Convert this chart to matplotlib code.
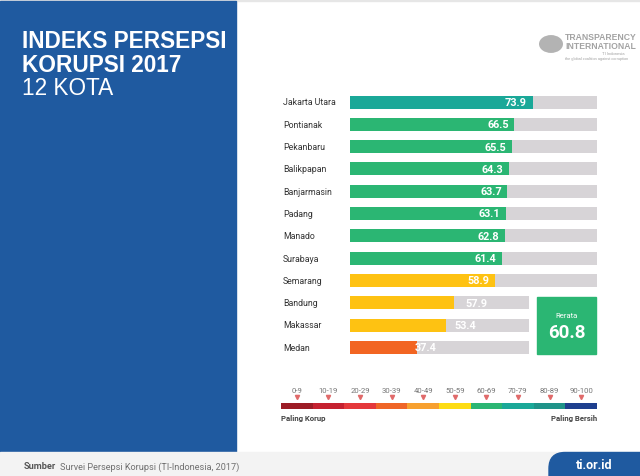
import matplotlib
matplotlib.use("Agg")
import matplotlib.pyplot as plt
from matplotlib.patches import Rectangle, FancyBboxPatch, Circle
from matplotlib.transforms import blended_transform_factory

# data
kota_atas = ['Jakarta Utara', 'Pontianak', 'Pekanbaru', 'Balikpapan', 'Banjarmasin',
             'Padang', 'Manado', 'Surabaya', 'Semarang']
skor_atas = [73.9, 66.5, 65.5, 64.3, 63.7, 63.1, 62.8, 61.4, 58.9]
kota_bawah = ['Bandung', 'Makassar', 'Medan']
skor_bawah = [57.9, 53.4, 37.4]
rerata = 60.8

skala_label = ['0-9', '10-19', '20-29', '30-39', '40-49', '50-59',
               '60-69', '70-79', '80-89', '90-100']
skala_warna = ['#9c1c26', '#c52130', '#e4383b', '#ef6527', '#f7a02f', '#fddc14',
               '#2bb673', '#1aa898', '#1f9389', '#1e3f8e']
# bar colours per score band (yellow band is deeper on the bars)
warna_bar = ['#9c1c26', '#c52130', '#e4383b', '#f26522', '#f7a02f', '#fec212',
             '#2bb673', '#1aa898', '#1f9389', '#1e3f8e']

W, H = 640, 477
BIRU = '#1f5aa0'
ABU = '#d7d4d7'


def fx(x):
    return x / W


def fy(y):
    return 1 - y / H


fig = plt.figure(figsize=(6.4, 4.77), dpi=100)
fig.patch.set_facecolor('white')

# background pieces
fig.patches.append(Rectangle((0, fy(2)), 1, 2 / H, transform=fig.transFigure,
                             color='#e6e6e6', zorder=0))
fig.patches.append(Rectangle((0, fy(453)), fx(236), 451 / H, transform=fig.transFigure,
                             color=BIRU, zorder=0))
fig.patches.append(Rectangle((0, 0), 1, 24 / H, transform=fig.transFigure,
                             color='#f3f3f3', zorder=0))
fig.patches.append(FancyBboxPatch((fx(549), -0.05), fx(120), 0.05 + 23.5 / H,
                                  boxstyle='round,pad=0,rounding_size=0.025',
                                  transform=fig.transFigure, color=BIRU, zorder=1,
                                  mutation_aspect=W / H))

# title
fig.text(fx(22), fy(48), 'INDEKS PERSEPSI', color='white', fontsize=16.3,
         fontweight='bold', family='Liberation Sans')
fig.text(fx(22), fy(72), 'KORUPSI 2017', color='white', fontsize=16.3,
         fontweight='bold', family='Liberation Sans')
fig.text(fx(22), fy(95), '12 KOTA', color='white', fontsize=16.3,
         family='Liberation Sans')

# logo
fig.patches.append(Circle((fx(551), fy(45)), 12 / W, transform=fig.transFigure,
                          facecolor='#b3b3b3', edgecolor='none'))
fig.text(fx(565), fy(40), 'TRANSPARENCY', color='#a3a3a3', fontsize=6.2,
         fontweight='bold', family='Liberation Sans')
fig.text(fx(565), fy(49), 'INTERNATIONAL', color='#a3a3a3', fontsize=6.2,
         fontweight='bold', family='Liberation Sans')
fig.text(fx(624), fy(55), 'TI Indonesia', color='#a0a0a0', fontsize=3,
         ha='right', family='Liberation Sans')
fig.text(fx(565), fy(60), 'the global coalition against corruption', color='#a0a0a0',
         fontsize=2.8, family='Liberation Sans')

# bars
baris = 22.3
tinggi = 13 / baris
top0 = 103 - baris / 2


def warna(v):
    return warna_bar[int(v // 10)]


ax1 = fig.add_axes([fx(350), fy(top0 + 9 * baris), 247 / W, 9 * baris / H])
ax2 = fig.add_axes([fx(350), fy(top0 + 12 * baris), 179 / W, 3 * baris / H])

for ax, kota, skor in [(ax1, kota_atas, skor_atas), (ax2, kota_bawah, skor_bawah)]:
    ypos = list(range(len(kota)))
    ax.barh(ypos, [100] * len(kota), height=tinggi, color=ABU, zorder=1)
    ax.barh(ypos, skor, height=tinggi, color=[warna(v) for v in skor], zorder=2)
    ax.set_xlim(0, 100)
    ax.set_ylim(len(kota) - 0.5, -0.5)
    ax.axis('off')
    tr_kota = blended_transform_factory(fig.transFigure, ax.transData)
    for y, k in zip(ypos, kota):
        ax.text(fx(283), y, k, transform=tr_kota, ha='left', va='center',
                fontsize=6.3, color='#333333', family='Roboto')
    # value labels follow the upper bar scale
    tr_nilai = blended_transform_factory(ax1.transData, ax.transData)
    for y, v in zip(ypos, skor):
        ax.annotate(f'{v:.1f}', xy=(v, y), xycoords=tr_nilai, xytext=(-4, 0),
                    textcoords='offset points', ha='right', va='center',
                    fontsize=7.8, fontweight='bold', color='white', family='Roboto',
                    zorder=3, annotation_clip=False)

# rerata box
fig.patches.append(Rectangle((fx(537), fy(355)), 59 / W, 57 / H,
                             transform=fig.transFigure, color='#2bb673'))
fig.text(fx(566.5), fy(316), 'Rerata', color='white', fontsize=5.5, ha='center',
         va='center', family='Roboto')
fig.text(fx(566.5), fy(333), f'{rerata:.1f}', color='white', fontsize=13.5,
         ha='center', va='center', fontweight='bold', family='Roboto')

# scale legend
ax3 = fig.add_axes([fx(281), fy(410), 316 / W, 6 / H])
ax3.barh([0] * len(skala_warna), [1] * len(skala_warna),
         left=list(range(len(skala_warna))), height=1, color=skala_warna)
ax3.set_xlim(0, len(skala_warna))
ax3.set_ylim(-0.5, 0.5)
ax3.axis('off')
tr_sk = blended_transform_factory(ax3.transData, fig.transFigure)
for i, lab in enumerate(skala_label):
    ax3.text(i + 0.5, fy(391), lab, transform=tr_sk, ha='center', va='center',
             fontsize=5.6, color='#777777', family='Roboto')
    ax3.plot(i + 0.5, fy(398), marker='v', markersize=3, color='#e06a6a',
             transform=tr_sk, clip_on=False)
fig.text(fx(281), fy(419), 'Paling Korup', fontsize=5.6, fontweight='bold',
         color='#444444', ha='left', va='center', family='Roboto')
fig.text(fx(597), fy(419), 'Paling Bersih', fontsize=5.6, fontweight='bold',
         color='#444444', ha='right', va='center', family='Roboto')

# footer
sumber = fig.text(fx(24), fy(467), 'Sumber', fontsize=6.6, fontweight='bold',
                  color='#555555', va='center', family='Roboto')
fig.text(0, 0, 'Survei Persepsi Korupsi (TI-Indonesia, 2017)', fontsize=6.6,
         color='#707070', va='center', family='Roboto')
fig.texts[-1].remove()
fig.add_artist(matplotlib.text.Annotation(
    'Survei Persepsi Korupsi (TI-Indonesia, 2017)', xy=(1, 0.5), xycoords=sumber,
    xytext=(2.5, 0), textcoords='offset points', fontsize=6.6, color='#707070',
    va='center', ha='left', family='Roboto'))
fig.text(fx(594), fy(466), 'ti.or.id', fontsize=9, fontweight='bold', color='white',
         ha='center', va='center', family='Roboto')

fig.savefig('out.png', dpi=100)
